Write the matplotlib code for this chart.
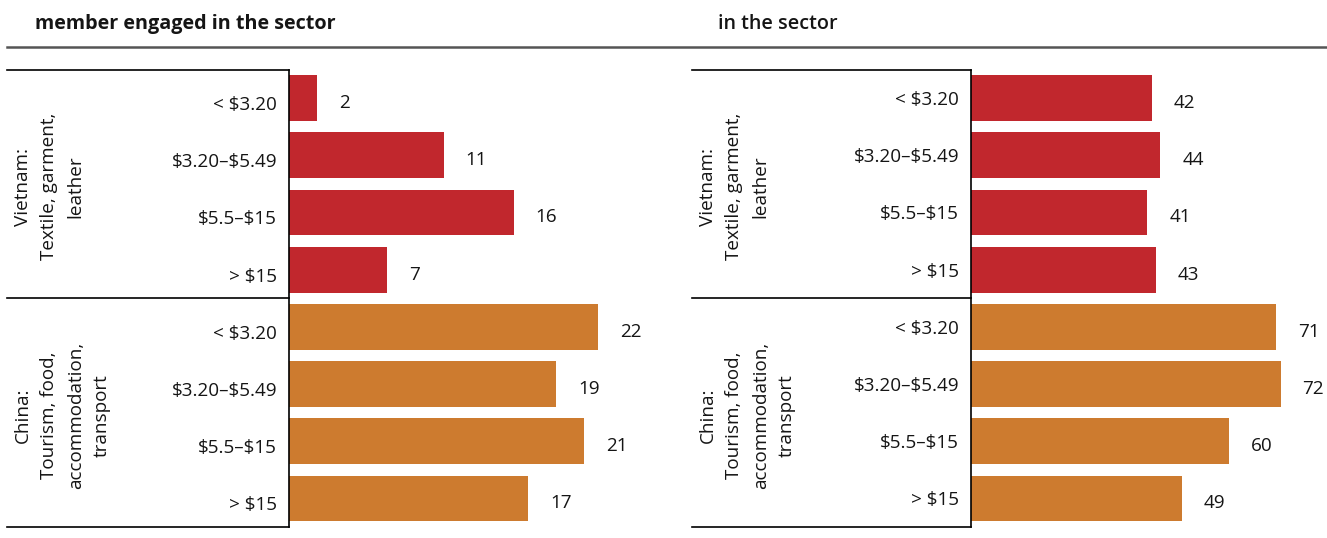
import numpy as np
import matplotlib
matplotlib.use("Agg")
import matplotlib.pyplot as plt
from matplotlib.lines import Line2D
from matplotlib.transforms import blended_transform_factory, ScaledTranslation

plt.rcParams['font.family'] = ['Open Sans', 'Lato', 'DejaVu Sans']

# ---- data ----
categories = ["< $3.20", "$3.20\u2013$5.49", "$5.5\u2013$15", "> $15"]
groups = ["Vietnam:\nTextile, garment,\nleather",
          "China:\nTourism, food,\naccommodation,\ntransport"]
left_title = "member engaged in the sector"
right_title = "in the sector"
left_vietnam = [2, 11, 16, 7]
left_china = [22, 19, 21, 17]
right_vietnam = [42, 44, 41, 43]
right_china = [71, 72, 60, 49]

RED = "#C1272D"
ORANGE = "#CD7B2F"
TXT = "#151515"
W, H = 1327, 538
FS = 13.6

fig = plt.figure(figsize=(W / 100, H / 100), dpi=100)

def fx(px):
    return px / W

def fy(py):
    return 1 - py / H

top_px, bot_px = 69.5, 527
cat_labels = [c.replace("$", r"\$") for c in categories]

def panel(ax_left, ax_right, scale, vals_v, vals_c, box_left, label_dy):
    ax = fig.add_axes([fx(ax_left), fy(bot_px), (ax_right - ax_left) / W,
                       (bot_px - top_px) / H])
    vals = list(vals_v) + list(vals_c)
    colors = [RED] * len(vals_v) + [ORANGE] * len(vals_c)
    ypos = np.arange(len(vals))
    ax.barh(ypos, vals, height=0.8, color=colors)
    ax.set_ylim(len(vals) - 0.5, -0.5)
    ax.set_xlim(0, (ax_right - ax_left) / scale)
    for s in ["top", "right", "bottom"]:
        ax.spines[s].set_visible(False)
    ax.spines["left"].set_color("black")
    ax.spines["left"].set_linewidth(1.2)
    ax.set_xticks([])
    ax.set_yticks(ypos)
    ax.set_yticklabels(cat_labels * 2, fontsize=FS, color=TXT)
    ax.tick_params(axis="y", length=0, pad=8.6)
    off = ScaledTranslation(0, -label_dy / 100, fig.dpi_scale_trans)
    for lab in ax.get_yticklabels():
        lab.set_transform(lab.get_transform() + off)
    for i, v in enumerate(vals):
        ax.annotate(str(v), xy=(v, i), xytext=(22 * 0.72, -5 * 0.72),
                    textcoords="offset points", ha="left", va="center",
                    fontsize=FS, color=TXT, fontweight="medium")
    tr = blended_transform_factory(fig.transFigure, ax.transData)
    for y in [-0.5, 3.5, 7.5]:
        ax.add_line(Line2D([fx(box_left), fx(ax_left)], [y, y], transform=tr,
                           color="black", lw=1.2, clip_on=False))
    for gi, g in enumerate(groups):
        yc = 1.5 + 4 * gi + 0.05
        ax.text(fx(box_left + 7), yc, g, transform=tr, rotation=90,
                ha="left", va="center", multialignment="center",
                fontsize=FS, color=TXT, linespacing=1.6)
    return ax

panel(289, 660, 14.05, left_vietnam, left_china, 7, 5)
panel(971, 1327, 4.3, right_vietnam, right_china, 692, 0)

fig.add_artist(Line2D([fx(7), fx(1327)], [fy(46.5), fy(46.5)],
                      transform=fig.transFigure, color="#555555", lw=1.8))
fig.text(fx(35), fy(24), left_title, ha="left", va="center",
         fontsize=14.2, fontweight="bold", color=TXT)
fig.text(fx(718), fy(24), right_title, ha="left", va="center",
         fontsize=14.2, fontweight="semibold", color=TXT)

fig.savefig("out.png", dpi=100)
